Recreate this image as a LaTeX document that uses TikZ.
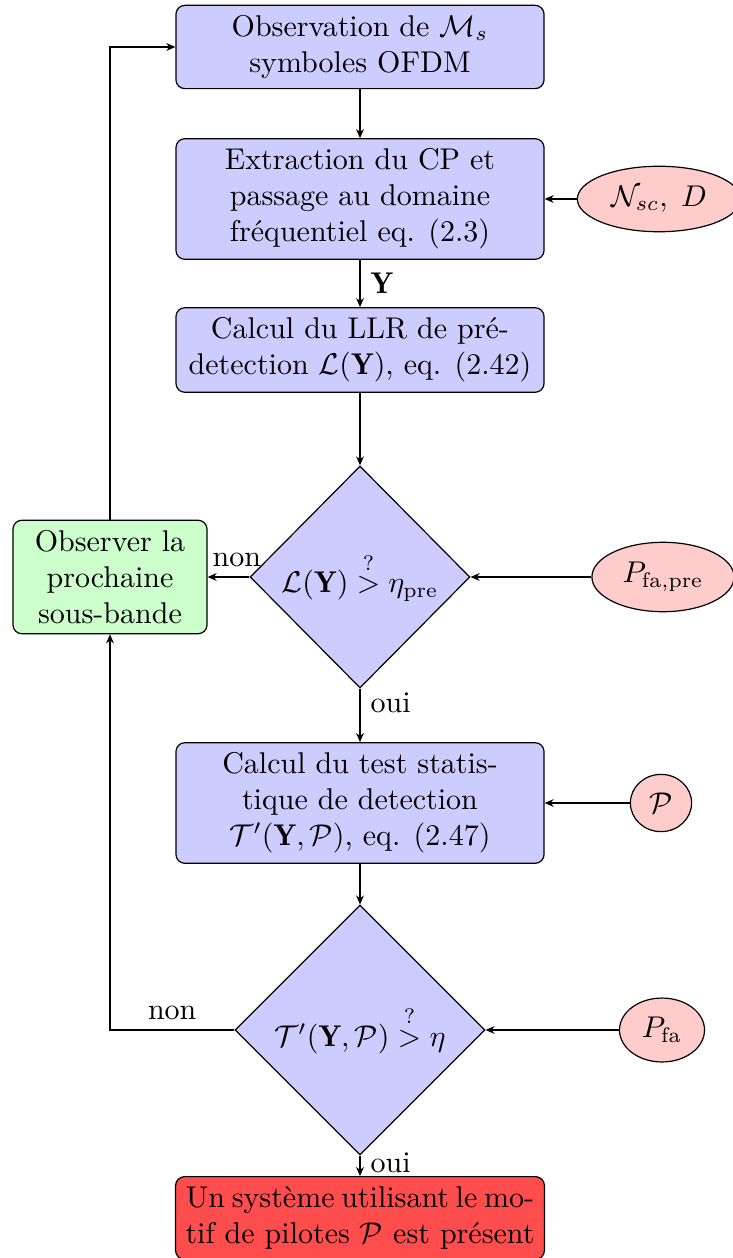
\documentclass[tikz,border=0pt]{standalone}
\usepackage{fontspec}
\usetikzlibrary{shapes.geometric,arrows.meta}
\begin{document}
\begin{tikzpicture}[x=0.3333pt,y=-0.3333pt,
  proc/.style={draw, rounded corners=3pt, fill=blue!20, align=center, minimum width=122.7pt, inner sep=3.33pt},
  nextbox/.style={draw, rounded corners=3pt, fill=green!20, align=center, minimum width=64.7pt, inner sep=3.33pt},
  dec/.style={draw, diamond, aspect=1, fill=blue!20, inner sep=0pt},
  param/.style={draw, ellipse, fill=red!20, inner sep=3.33pt},
  arr/.style={-{Stealth[length=3pt,width=2.6pt]}},
]
\useasboundingbox (0,0) rectangle (733,1258);
\node[proc] (b1) at (360,47) {Observation de $\mathcal{M}_s$\\symboles OFDM};
\node[proc] (b2) at (360,199) {Extraction du CP et\\passage au domaine\\fréquentiel eq. (2.3)};
\node[proc] (b3) at (360,350) {Calcul du LLR de pré-\\detection $\mathcal{L}(\mathbf{Y})$, eq. (2.42)};
\node[dec, minimum width=73.3pt, minimum height=74pt] (d1) at (360,577) {$\mathcal{L}(\mathbf{Y}) \stackrel{?}{>} \eta_{\mathrm{pre}}$};
\node[nextbox] (g) at (110,577) {Observer la\\prochaine\\sous-bande};
\node[proc] (b4) at (360,803) {Calcul du test statis-\\tique de detection\\$\mathcal{T}'(\mathbf{Y},\mathcal{P})$, eq. (2.47)};
\node[dec, minimum width=83.3pt, minimum height=83.3pt] (d2) at (360,1030) {$\mathcal{T}'(\mathbf{Y},\mathcal{P}) \stackrel{?}{>} \eta$};
\node[proc, fill=red!70] (b5) at (360,1218) {\makebox[116pt][s]{Un système utilisant le mo-}\\tif de pilotes $\mathcal{P}$ est présent};
\node[param] (p1) at (659,199) {$\mathcal{N}_{sc},\; D$};
\node[param] (p2) at (663,577) {$P_{\mathrm{fa,pre}}$};
\node[param] (p3) at (661,803) {$\mathcal{P}$};
\node[param] (p4) at (662,1030) {$P_{\mathrm{fa}}$};
\draw[arr] (b1) -- (b2);
\draw[arr] (p1) -- (b2);
\draw[arr] (b2) -- node[right]{$\mathbf{Y}$} (b3);
\draw[arr] (b3) -- (d1);
\draw[arr] (p2) -- (d1);
\draw[arr] (d1) -- node[above, pos=0.3]{non} (g);
\draw[arr] (d1) -- node[right, pos=0.27]{oui} (b4);
\draw[arr] (p3) -- (b4);
\draw[arr] (b4) -- (d2);
\draw[arr] (p4) -- (d2);
\draw[arr] (d2) -- node[right, pos=0.35]{oui} (b5);
\draw[arr] (d2.west) -| node[above, pos=0.25]{non} (g.south);
\draw[arr] (g.north) |- (b1.west);
\end{tikzpicture}
\end{document}
